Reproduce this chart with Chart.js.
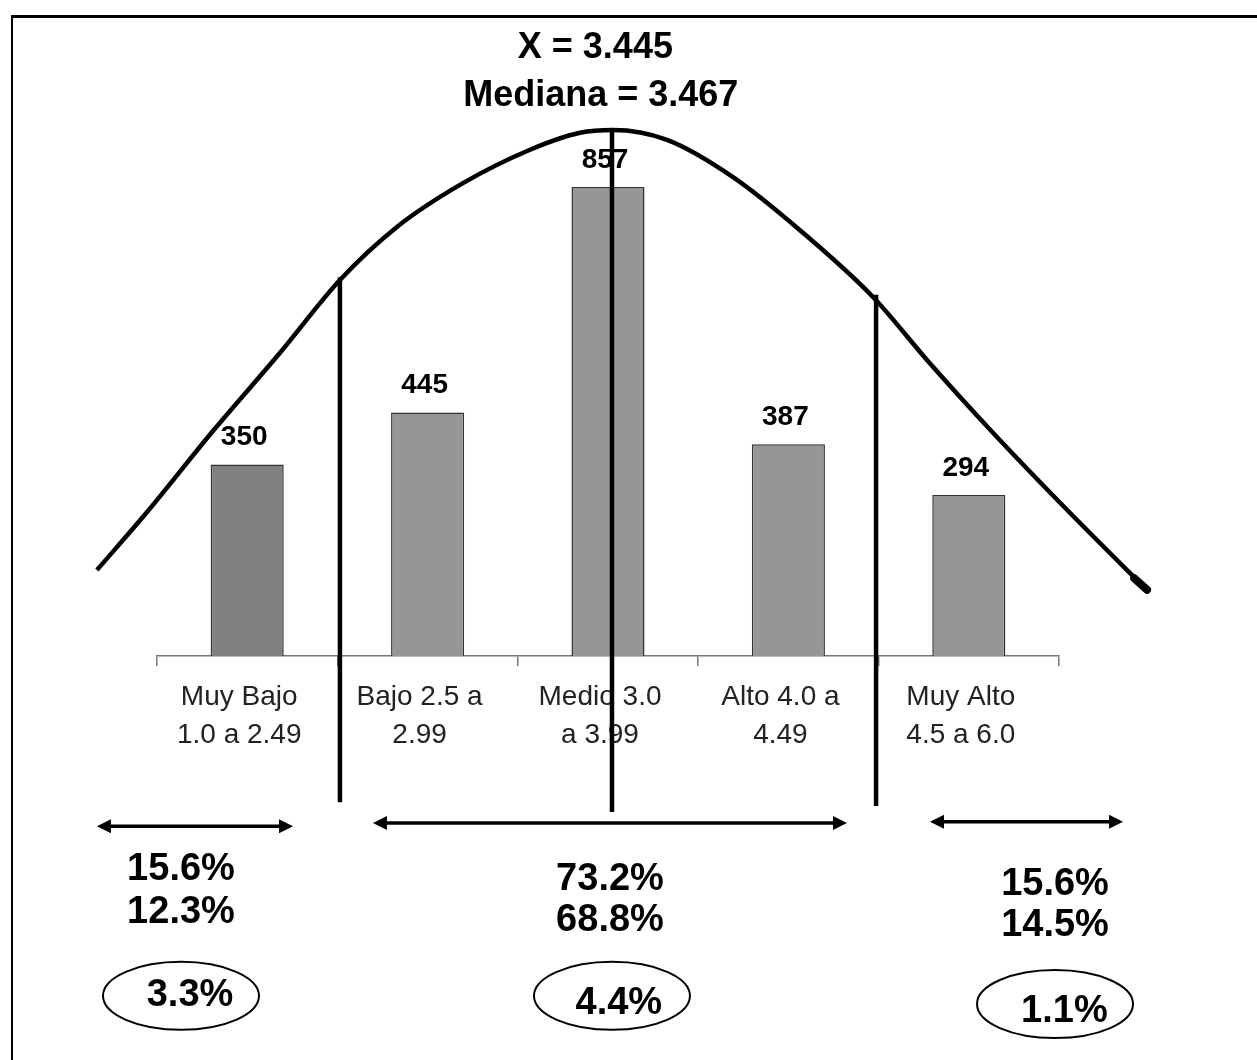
<!DOCTYPE html>
<html><head><meta charset="utf-8">
<script src="https://cdn.jsdelivr.net/npm/chart.js@4/dist/chart.umd.min.js"></script>
<style>html,body{margin:0;padding:0;background:#fff;overflow:hidden}</style>
</head><body>
<canvas id="c" width="1257" height="1060" style="display:block;width:1257px;height:1060px"></canvas>
<script>
// ---- data ----
const categories = [['Muy Bajo','1.0 a 2.49'],['Bajo 2.5 a','2.99'],['Medio 3.0','a 3.99'],['Alto 4.0 a','4.49'],['Muy Alto','4.5 a 6.0']];
const counts = [350, 445, 857, 387, 294];
// bell curve (x in category units, y in count units)
const curveX = [-0.833,-0.555,-0.190,0.182,0.514,0.830,1.196,1.568,1.845,2.028,2.327,2.693,3.064,3.469,3.768,4.134,4.506,4.877,4.988];
const curveY = [157,263,411,554,687,784,864,925,956,961,943,875,778,656,541,408,280,157,121];
// vertical cut lines
const cutX = [0.514, 2.022, 3.486];
const cutTop = [692, 961, 660];
const cutBottom = [-267, -285, -274];
// band summaries
const shareA = ['15.6%','73.2%','15.6%'];
const shareB = ['12.3%','68.8%','14.5%'];
const shareDiff = ['3.3%','4.4%','1.1%'];
const titleLines = ['X = 3.445','Mediana = 3.467'];

// ---- layout (data units) ----
const bandX = [-0.367, 2.011, 4.478];
const arrowX1 = [-0.833, 0.697, 3.785];
const arrowX2 = [0.254, 3.325, 4.855];
const arrowY = [-311, -305, -303];
const shareAY = [-391, -409, -417];
const shareBY = [-468, -484, -493];
const ellX = [-0.367, 2.022, 4.478];
const ellY = [-621, -621, -636];
const diffX = [-0.317, 2.06, 4.53];
const diffY = [-620, -635, -649];
const titleX = 1.93;
const titleY = [1111, 1023];

const FONT = "'Liberation Sans', Arial, sans-serif";

const deco = {
  id: 'deco',
  beforeDraw(chart){
    const ctx = chart.ctx;
    ctx.save();
    ctx.fillStyle = '#fff';
    ctx.fillRect(0,0,chart.width,chart.height);
    ctx.fillStyle = '#000';
    ctx.fillRect(12,15,chart.width-12,3);
    ctx.fillRect(11,15,2,chart.height-15);
    ctx.restore();
  },
  afterDatasetDraw(chart, args){
    if (args.index !== 0) return;
    const ctx = chart.ctx;
    const meta = chart.getDatasetMeta(0);
    ctx.save();
    ctx.fillStyle = '#000';
    ctx.font = 'bold 28px ' + FONT;
    ctx.textAlign = 'center';
    ctx.textBaseline = 'middle';
    meta.data.forEach((bar, i) => {
      ctx.fillText(String(counts[i]), bar.x - 3, bar.y - 27);
    });
    ctx.restore();
  },
  afterDraw(chart){
    const ctx = chart.ctx;
    const xs = chart.scales.xc, ys = chart.scales.y;
    const X = v => xs.getPixelForValue(v), Y = v => ys.getPixelForValue(v);
    ctx.save();
    ctx.fillStyle = '#000';
    ctx.strokeStyle = '#000';
    ctx.textAlign = 'center';
    ctx.textBaseline = 'middle';
    // curve end blob
    const n = curveX.length;
    ctx.lineWidth = 8; ctx.lineCap = 'round';
    ctx.beginPath();
    ctx.moveTo(X(curveX[n-2] + 0.04), Y(curveY[n-2] - 15));
    ctx.lineTo(X(curveX[n-1]), Y(curveY[n-1]));
    ctx.stroke();
    ctx.lineCap = 'butt';
    // title
    ctx.font = 'bold 36px ' + FONT;
    titleLines.forEach((t,i) => ctx.fillText(t, X(titleX + (i ? 0.03 : 0)), Y(titleY[i])));
    // arrows
    for (let i = 0; i < 3; i++) {
      const x1 = X(arrowX1[i]), x2 = X(arrowX2[i]), y = Y(arrowY[i]);
      ctx.lineWidth = 3.5;
      ctx.beginPath(); ctx.moveTo(x1 + 8, y); ctx.lineTo(x2 - 8, y); ctx.stroke();
      ctx.beginPath(); ctx.moveTo(x1, y); ctx.lineTo(x1 + 14, y - 7); ctx.lineTo(x1 + 14, y + 7); ctx.closePath(); ctx.fill();
      ctx.beginPath(); ctx.moveTo(x2, y); ctx.lineTo(x2 - 14, y - 7); ctx.lineTo(x2 - 14, y + 7); ctx.closePath(); ctx.fill();
    }
    // shares
    ctx.font = 'bold 38px ' + FONT;
    for (let i = 0; i < 3; i++) {
      ctx.fillText(shareA[i], X(bandX[i]), Y(shareAY[i]));
      ctx.fillText(shareB[i], X(bandX[i]), Y(shareBY[i]));
    }
    // ellipses
    ctx.lineWidth = 2;
    for (let i = 0; i < 3; i++) {
      ctx.beginPath();
      ctx.ellipse(X(ellX[i]), Y(ellY[i]), 78, 34, 0, 0, Math.PI * 2);
      ctx.stroke();
      ctx.fillText(shareDiff[i], X(diffX[i]), Y(diffY[i]));
    }
    ctx.restore();
  }
};

const lineDs = (pts, w, order) => ({
  type: 'line', xAxisID: 'xc', yAxisID: 'y', data: pts, borderColor: '#000', borderWidth: w,
  pointRadius: 0, fill: false, clip: false, order: order, cubicInterpolationMode: 'monotone'
});

const curvePts = curveX.map((x, i) => ({x: x, y: curveY[i]}));
const datasets = [{
  type: 'bar', xAxisID: 'x', yAxisID: 'y', data: counts, order: 10, grouped: false,
  backgroundColor: counts.map((v, i) => i === 0 ? '#808080' : '#969696'),
  borderColor: '#333', borderWidth: 1.5,
  barPercentage: 0.405, categoryPercentage: 1
}, lineDs(curvePts, 4.5, 2)];
cutX.forEach((x, i) => {
  datasets.push(lineDs([{x: x, y: cutTop[i]}, {x: x, y: cutBottom[i]}], 4.5, 1));
});

new Chart(document.getElementById('c'), {
  type: 'bar',
  data: { labels: categories, datasets: datasets },
  options: {
    responsive: false, animation: false, devicePixelRatio: 1,
    layout: { padding: { left: 157, right: 198, top: 108.7, bottom: 0 } },
    plugins: { legend: { display: false }, tooltip: { enabled: false }, title: { display: false } },
    scales: {
      x: {
        type: 'category', offset: true,
        grid: { display: true, drawOnChartArea: false, drawTicks: true, tickLength: 10, color: '#777', lineWidth: 1.5, offset: true },
        border: { display: true, color: '#777', width: 1.5 },
        ticks: { color: '#222', font: { family: FONT, size: 28, lineHeight: 1.37 }, padding: 12, labelOffset: -8, maxRotation: 0, autoSkip: false },
        afterFit: s => { s.height = 404; }
      },
      xc: {
        type: 'linear', display: false, offset: false, grid: { offset: false }, bounds: 'data',
        afterDataLimits: s => { s.min = -0.5; s.max = 4.5; }
      },
      y: { display: false, min: 0, max: 1000 }
    }
  },
  plugins: [deco]
});
</script>
</body></html>
